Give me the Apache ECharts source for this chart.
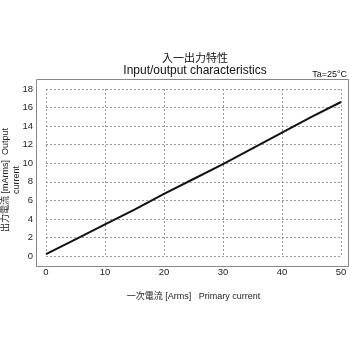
<!DOCTYPE html>
<html><head><meta charset="utf-8">
<script src="https://cdn.jsdelivr.net/npm/echarts@6/dist/echarts.min.js"></script>
<style>html,body{margin:0;padding:0;background:#fff}#c{width:350px;height:350px}</style>
</head><body><div id="c"></div>
<script>
const xValues = [0, 5, 10, 15, 20, 25, 30, 35, 40, 45, 50];
const outputCurrent = [0.2, 1.8, 3.4, 5.0, 6.7, 8.3, 9.9, 11.6, 13.3, 15.0, 16.6];
const titleJa = '入一出力特性';
const titleEn = 'Input/output characteristics';
const condition = 'Ta=25\u00B0C';
const xName = '一次電流 [Arms]   Primary current';
const yName = '出力電流 [mArms]  Output\ncurrent';

const chart = echarts.init(document.getElementById('c'), null, {renderer: 'canvas'});
const font = '"Liberation Sans", Arial, "Noto Sans CJK JP", sans-serif';
chart.setOption({
  animation: false,
  backgroundColor: '#fff',
  grid: {left: 46, right: 9, top: 89, bottom: 94},
  xAxis: {
    type: 'value', min: 0, max: 50, interval: 10,
    axisLine: {show: false}, axisTick: {show: false},
    splitLine: {show: true, lineStyle: {color: '#999', type: [2, 2], width: 1}},
    axisLabel: {color: '#222', fontSize: 9.5, fontFamily: font, margin: 12},
    name: xName, nameLocation: 'middle', nameGap: 36,
    nameTextStyle: {color: '#222', fontSize: 9, fontFamily: font}
  },
  yAxis: {
    type: 'value', min: 0, max: 18, interval: 2,
    axisLine: {show: false}, axisTick: {show: false},
    splitLine: {show: true, lineStyle: {color: '#999', type: [2, 2], width: 1}},
    axisLabel: {color: '#222', fontSize: 9.5, fontFamily: font, margin: 13, padding: [6, 0, 0, 0]}
  },
  series: [{
    type: 'line', data: xValues.map((x, i) => [x, outputCurrent[i]]),
    showSymbol: false, lineStyle: {color: '#111', width: 2}
  }],
  graphic: [
    {type: 'rect', shape: {x: 36.5, y: 79.5, width: 312, height: 187}, style: {fill: null, stroke: '#888', lineWidth: 1}, silent: true},
    {type: 'text', x: 195, y: 58, style: {text: titleJa, font: '11px "Noto Sans CJK JP"', fill: '#111', align: 'center', verticalAlign: 'middle'}},
    {type: 'text', x: 195, y: 71, style: {text: titleEn, font: '12px ' + font, fill: '#111', align: 'center', verticalAlign: 'middle'}},
    {type: 'text', x: 347, y: 75, style: {text: condition, font: '9px ' + font, fill: '#111', align: 'right', verticalAlign: 'middle'}},
    {type: 'text', x: 11, y: 180, rotation: Math.PI / 2, style: {text: yName, font: '9px ' + font, fill: '#222', align: 'center', verticalAlign: 'middle', lineHeight: 11}}
  ]
});
</script></body></html>
